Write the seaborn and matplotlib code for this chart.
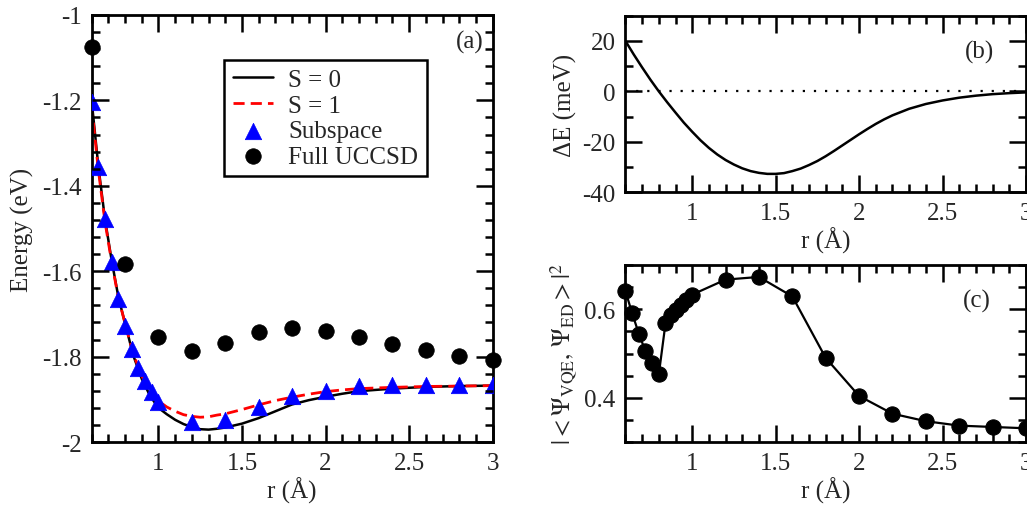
import numpy as np
import matplotlib
matplotlib.use("Agg")
import matplotlib.pyplot as plt
from matplotlib.ticker import MultipleLocator, FormatStrFormatter
import seaborn as sns

# curvas de energia (a)
r_curva = [0.6, 0.64, 0.68, 0.72, 0.76, 0.8, 0.85, 0.9, 0.95, 1.0, 1.05, 1.1, 1.15,
           1.2, 1.25, 1.3, 1.35, 1.4, 1.5, 1.6, 1.7, 1.8, 1.9, 2.0, 2.1, 2.2, 2.4,
           2.6, 2.8, 3.0]
e_s0 = [-1.200, -1.353, -1.478, -1.575, -1.660, -1.722, -1.798, -1.852, -1.892, -1.920,
        -1.935, -1.948, -1.958, -1.965, -1.970, -1.971, -1.969, -1.966, -1.957, -1.944,
        -1.928, -1.912, -1.902, -1.894, -1.887, -1.881, -1.875, -1.871, -1.869, -1.868]
e_s1 = [-1.212, -1.362, -1.484, -1.579, -1.662, -1.722, -1.794, -1.845, -1.880, -1.904,
        -1.918, -1.928, -1.936, -1.940, -1.942, -1.941, -1.937, -1.934, -1.924, -1.913,
        -1.903, -1.895, -1.888, -1.882, -1.878, -1.875, -1.872, -1.870, -1.869, -1.868]

# pontos: subspace e full UCCSD
r_sub = [0.6, 0.64, 0.68, 0.72, 0.76, 0.8, 0.84, 0.88, 0.92, 0.96, 1.0,
         1.2, 1.4, 1.6, 1.8, 2.0, 2.2, 2.4, 2.6, 2.8, 3.0]
e_sub = [-1.204, -1.355, -1.478, -1.579, -1.665, -1.728, -1.783, -1.826, -1.857, -1.884, -1.907,
         -1.954, -1.948, -1.918, -1.893, -1.880, -1.870, -1.866, -1.866, -1.866, -1.867]
r_full = [0.6, 0.8, 1.0, 1.2, 1.4, 1.6, 1.8, 2.0, 2.2, 2.4, 2.6, 2.8, 3.0]
e_full = [-1.076, -1.582, -1.753, -1.786, -1.769, -1.743, -1.733, -1.739, -1.753,
          -1.770, -1.784, -1.798, -1.809]

# diferença de energia (b)
r_de = [0.6, 0.65, 0.7, 0.75, 0.8, 0.85, 0.9, 0.95, 1.0, 1.05, 1.1, 1.15, 1.2, 1.25,
        1.3, 1.35, 1.4, 1.45, 1.5, 1.55, 1.6, 1.65, 1.7, 1.75, 1.8, 1.85, 1.9, 1.95,
        2.0, 2.05, 2.1, 2.15, 2.2, 2.3, 2.4, 2.5, 2.6, 2.7, 2.8, 2.9, 3.0]
de_mev = [20, 14.6, 9.5, 4.6, 0, -4.3, -8.4, -12.4, -16.0, -19.4, -22.4, -25.0, -27.2, -29.0,
          -30.5, -31.6, -32.3, -32.7, -32.7, -32.4, -31.6, -30.6, -29.2, -27.6, -25.7,
          -23.6, -21.4, -19.2, -17.0, -14.9, -12.9, -11.1, -9.5, -6.9, -5.0, -3.6, -2.5,
          -1.7, -1.1, -0.7, -0.4]

# fidelidade (c)
r_fid = [0.6, 0.64, 0.68, 0.72, 0.76, 0.8, 0.84, 0.87, 0.9, 0.93, 0.96, 1.0,
         1.2, 1.4, 1.6, 1.8, 2.0, 2.2, 2.4, 2.6, 2.8, 3.0]
fid = [0.641, 0.591, 0.545, 0.505, 0.478, 0.453, 0.568, 0.587, 0.598, 0.610, 0.621, 0.633,
       0.667, 0.673, 0.629, 0.490, 0.404, 0.364, 0.347, 0.337, 0.334, 0.331]

sns.set_style("ticks")
plt.rcParams['font.family'] = ['Liberation Serif', 'DejaVu Serif']
plt.rcParams['mathtext.fontset'] = 'stix'
plt.rcParams['axes.unicode_minus'] = False
plt.rcParams['axes.linewidth'] = 2.0
plt.rcParams['axes.axisbelow'] = False

fs = 18

fig = plt.figure(figsize=(10.27, 5.06), dpi=100)
ax_a = fig.add_axes([0.0892, 0.1245, 0.3905, 0.8439])
ax_b = fig.add_axes([0.609, 0.618, 0.390, 0.349])
ax_c = fig.add_axes([0.609, 0.1245, 0.390, 0.3498])


def estilo(ax, ylim, ymaj, ymin):
    ax.set_xlim(0.6, 3.0)
    ax.xaxis.set_major_locator(MultipleLocator(0.5))
    ax.xaxis.set_minor_locator(MultipleLocator(0.1))
    ax.xaxis.set_major_formatter(FormatStrFormatter('%g'))
    ax.set_ylim(*ylim)
    ax.yaxis.set_major_locator(MultipleLocator(ymaj))
    ax.yaxis.set_minor_locator(MultipleLocator(ymin))
    ax.yaxis.set_major_formatter(FormatStrFormatter('%g'))
    for s in ax.spines.values():
        s.set_color('black')
        s.set_linewidth(2.0)
    ax.set_axisbelow(False)
    marcas(ax)


def marcas(ax):
    # ticks para dentro nos quatro lados
    ax.tick_params(which='both', direction='in', top=True, right=True,
                   bottom=True, left=True, color='black', labelsize=fs)
    ax.tick_params(which='major', length=12, width=1.8, pad=7)
    ax.tick_params(which='minor', length=6, width=1.8)


def forca_ticks(ax):
    # garante que as marcas de tick aparecem por cima de tudo
    for eixo in (ax.xaxis, ax.yaxis):
        eixo.set_zorder(4)
        for tam, ticks in ((12, eixo.get_major_ticks()), (6, eixo.get_minor_ticks())):
            for t in ticks:
                for ln in (t.tick1line, t.tick2line):
                    ln.set_visible(True)
                    ln.set_markersize(tam)
                    ln.set_markeredgewidth(1.8)
                    ln.set_markeredgecolor('black')
                    ln.set_color('black')
                    ln.set_alpha(1)


# (b)
sns.lineplot(x=r_de, y=de_mev, ax=ax_b, color='black', lw=1.8)
estilo(ax_b, (-40, 30), 20, 10)
ax_b.axhline(0, color='black', lw=1.6, ls=(0, (1, 4)))
ax_b.set_xlabel('r (Å)', fontsize=fs, labelpad=2)
ax_b.set_ylabel('ΔE (meV)', fontsize=fs, labelpad=4)
ax_b.text(0.885, 0.80, '(b)', transform=ax_b.transAxes, fontsize=fs,
          ha='center', va='center')

# (c)
sns.lineplot(x=r_fid, y=fid, ax=ax_c, color='black', lw=1.6, marker='o',
             markersize=11, markeredgecolor='black', clip_on=False)
estilo(ax_c, (0.3, 0.7), 0.2, 0.05)
ax_c.set_xlabel('r (Å)', fontsize=fs, labelpad=2)
ax_c.set_ylabel(r'$|<\Psi_{\rm VQE},\,\Psi_{\rm ED}>|^2$', fontsize=fs, labelpad=4)
ax_c.text(0.877, 0.798, '(c)', transform=ax_c.transAxes, fontsize=fs,
          ha='center', va='center')

# (a)
sns.lineplot(x=r_curva, y=e_s0, ax=ax_a, color='black', lw=1.8, label='S = 0')
estilo(ax_a, (-2.0, -1.0), 0.2, 0.04)
sns.lineplot(x=r_curva, y=e_s1, ax=ax_a, color='red', lw=2.0, label='S = 1')
ax_a.lines[1].set_dashes((4, 2.2))
sns.scatterplot(x=r_sub, y=e_sub, ax=ax_a, marker='^', s=140, color='blue',
                edgecolor='blue', linewidth=0.5, label='Subspace', zorder=3)
sns.scatterplot(x=r_full, y=e_full, ax=ax_a, marker='o', s=125, color='black',
                edgecolor='black', linewidth=0.5, label='Full UCCSD', zorder=3,
                clip_on=False)
ax_a.set_xlabel('r (Å)', fontsize=fs, labelpad=2)
ax_a.set_ylabel('Energy (eV)', fontsize=fs, labelpad=6)
ax_a.text(0.944, 0.937, '(a)', transform=ax_a.transAxes, fontsize=fs,
          ha='center', va='center')
leg = ax_a.legend(loc='upper left', bbox_to_anchor=(0.331, 0.895), fontsize=fs,
                  frameon=True, fancybox=False, edgecolor='black', framealpha=1,
                  labelspacing=0.12, handlelength=1.6, handletextpad=0.6,
                  borderpad=0.35, borderaxespad=0)
leg.get_frame().set_linewidth(1.8)
leg.set_zorder(6)

fig.canvas.draw()
for ax in (ax_a, ax_b, ax_c):
    marcas(ax)
    forca_ticks(ax)

fig.savefig('out.png', dpi=100)
